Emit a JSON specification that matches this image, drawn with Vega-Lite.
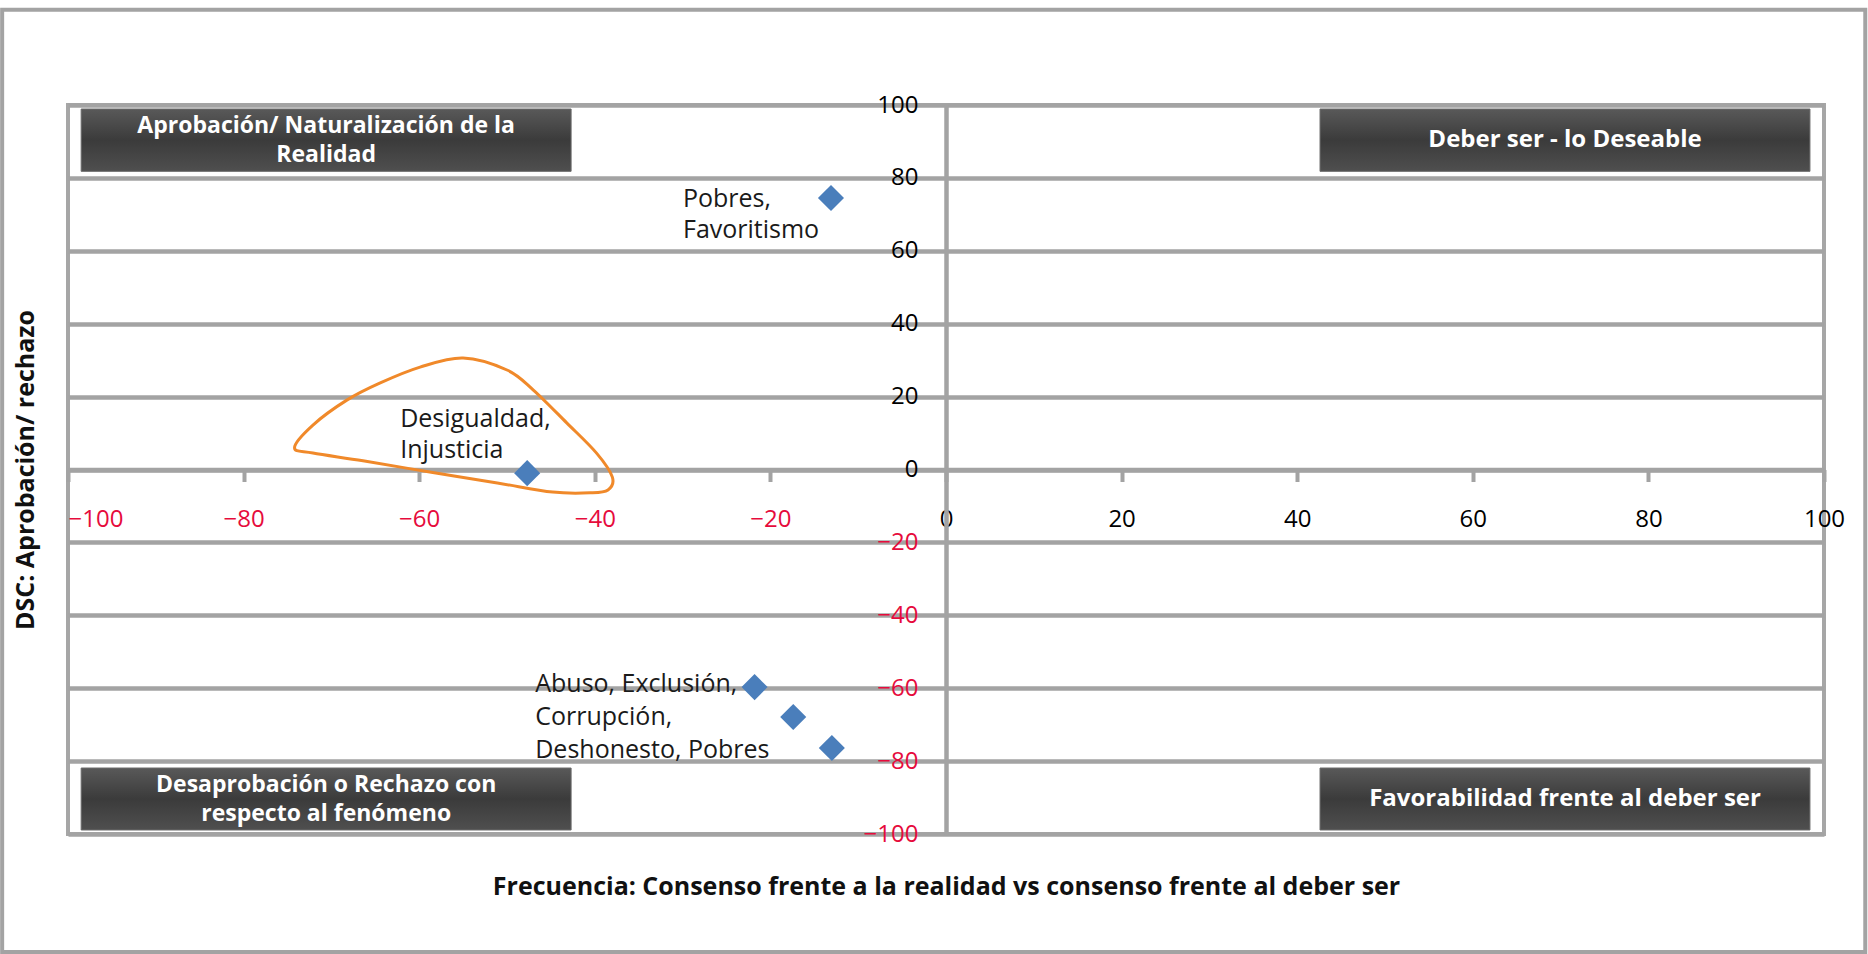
{
  "$schema": "https://vega.github.io/schema/vega-lite/v6.json",
  "width": 1756,
  "height": 729,
  "autosize": {"type": "none"},
  "padding": {"left": 68, "top": 105, "right": 44, "bottom": 120},
  "background": "white",
  "config": {
    "view": {"stroke": "#a6a6a6", "strokeWidth": 4},
    "font": "Open Sans"
  },
  "datasets": {
    "marco": [{"x": -107.5, "x2": 104.7, "y": 126.1, "y2": -132.4}],
    "cuadrantes": [
      {"texto": "Aprobación/ Naturalización de la\nRealidad", "x": -98.5, "x2": -42.7, "y": 98.9, "y2": 81.8},
      {"texto": "Deber ser - lo Deseable", "x": 42.6, "x2": 98.4, "y": 98.9, "y2": 81.8},
      {"texto": "Desaprobación o Rechazo con\nrespecto al fenómeno", "x": -98.5, "x2": -42.7, "y": -81.9, "y2": -98.9},
      {"texto": "Favorabilidad frente al deber ser", "x": 42.6, "x2": 98.4, "y": -81.9, "y2": -98.9}
    ],
    "contorno": [
      {"orden": 1, "x": -74.2, "y": 6.0},
      {"orden": 2, "x": -72.1, "y": 12.2},
      {"orden": 3, "x": -68.2, "y": 19.1},
      {"orden": 4, "x": -64.5, "y": 23.7},
      {"orden": 5, "x": -59.9, "y": 28.1},
      {"orden": 6, "x": -55.0, "y": 30.6},
      {"orden": 7, "x": -50.0, "y": 27.3},
      {"orden": 8, "x": -47.0, "y": 21.8},
      {"orden": 9, "x": -43.2, "y": 12.8},
      {"orden": 10, "x": -39.8, "y": 4.5},
      {"orden": 11, "x": -38.0, "y": -2.1},
      {"orden": 12, "x": -38.5, "y": -5.6},
      {"orden": 13, "x": -40.5, "y": -6.4},
      {"orden": 14, "x": -44.8, "y": -6.2},
      {"orden": 15, "x": -51.1, "y": -3.7},
      {"orden": 16, "x": -58.8, "y": -0.7},
      {"orden": 17, "x": -66.4, "y": 2.4},
      {"orden": 18, "x": -72.1, "y": 4.5}
    ],
    "puntos": [
      {"etiqueta": "Pobres, Favoritismo", "x": -13.1, "y": 74.5},
      {"etiqueta": "Desigualdad, Injusticia", "x": -47.7, "y": -1},
      {"etiqueta": "Abuso, Exclusión", "x": -21.8, "y": -59.7},
      {"etiqueta": "Corrupción", "x": -17.4, "y": -67.9},
      {"etiqueta": "Deshonesto, Pobres", "x": -13.0, "y": -76.4}
    ],
    "etiquetas": [
      {"grupo": "a", "texto": "Pobres,\nFavoritismo", "x": -13.1, "y": 74.5},
      {"grupo": "b", "texto": "Desigualdad,\nInjusticia", "x": -47.7, "y": -1},
      {"grupo": "c", "texto": "Abuso, Exclusión,\nCorrupción,\nDeshonesto, Pobres", "x": -17.4, "y": -67.9}
    ]
  },
  "encoding": {
    "x": {"field": "x", "type": "quantitative", "scale": {"domain": [-100, 100], "nice": false, "zero": false}, "axis": null},
    "y": {"field": "y", "type": "quantitative", "scale": {"domain": [-100, 100], "nice": false, "zero": false}, "axis": null}
  },
  "layer": [
    {
      "data": {"name": "marco"},
      "mark": {"type": "rect", "fill": "transparent", "stroke": "#a3a3a3", "strokeWidth": 4},
      "encoding": {
        "x": {
          "field": "x", "type": "quantitative",
          "scale": {"domain": [-100, 100], "nice": false, "zero": false},
          "axis": {
            "title": "Frecuencia: Consenso frente a la realidad vs consenso frente al deber ser",
            "orient": "bottom", "labels": false, "ticks": false, "domain": false, "grid": false,
            "titleFont": "Open Sans", "titleFontSize": 25, "titleFontWeight": "bold", "titleColor": "#111111",
            "titlePadding": 40, "minExtent": 0, "maxExtent": 0
          }
        },
        "x2": {"field": "x2"},
        "y": {
          "field": "y", "type": "quantitative",
          "scale": {"domain": [-100, 100], "nice": false, "zero": false},
          "axis": {
            "title": "DSC: Aprobación/ rechazo",
            "orient": "left", "labels": false, "ticks": false, "domain": false, "grid": true,
            "values": [-100, -80, -60, -40, -20, 0, 20, 40, 60, 80, 100],
            "gridColor": "#a3a3a3", "gridWidth": 4.5, "gridOpacity": 1,
            "titleFont": "Open Sans", "titleFontSize": 25, "titleFontWeight": "bold", "titleColor": "#111111",
            "titlePadding": 30, "minExtent": 0, "maxExtent": 0
          }
        },
        "y2": {"field": "y2"}
      }
    },
    {
      "data": {"name": "cuadrantes"},
      "mark": {
        "type": "rect",
        "fill": {"gradient": "linear", "x1": 0, "y1": 0, "x2": 0, "y2": 1,
          "stops": [{"offset": 0, "color": "#595959"}, {"offset": 0.5, "color": "#3b3b3b"}, {"offset": 1, "color": "#4f4f4f"}]},
        "stroke": "#6a6a6a", "strokeWidth": 1
      },
      "encoding": {"x2": {"field": "x2"}, "y2": {"field": "y2"}}
    },
    {
      "data": {"name": "cuadrantes"},
      "transform": [{"filter": "indexof(datum.texto, '\\n') < 0"}],
      "mark": {"type": "text", "align": "center", "baseline": "middle", "dx": 245, "dy": 31,
        "font": "Open Sans", "fontSize": 24, "fontWeight": "bold", "color": "#ffffff", "lineBreak": "\n", "lineHeight": 30},
      "encoding": {"text": {"field": "texto"}}
    },
    {
      "data": {"name": "cuadrantes"},
      "transform": [{"filter": "indexof(datum.texto, '\\n') >= 0"}],
      "mark": {"type": "text", "align": "center", "baseline": "middle", "dx": 245, "dy": 16.5,
        "font": "Open Sans", "fontSize": 23, "fontWeight": "bold", "color": "#ffffff", "lineBreak": "\n", "lineHeight": 29},
      "encoding": {"text": {"field": "texto"}}
    },
    {
      "data": {"name": "contorno"},
      "mark": {"type": "line", "interpolate": "cardinal-closed", "stroke": "#f0892a", "strokeWidth": 3},
      "encoding": {"order": {"field": "orden", "type": "quantitative"}}
    },
    {
      "data": {"name": "puntos"},
      "mark": {"type": "point", "shape": "diamond", "filled": true, "size": 680, "color": "#4a7ebb", "opacity": 1},
      "encoding": {
        "x": {
          "field": "x", "type": "quantitative",
          "scale": {"domain": [-100, 100], "nice": false, "zero": false},
          "axis": {
            "title": null, "orient": "bottom", "offset": -364.5,
            "values": [-100, -80, -60, -40, -20, 0, 20, 40, 60, 80, 100],
            "grid": false, "domain": true, "domainColor": "#a3a3a3", "domainWidth": 4.5,
            "ticks": true, "tickColor": "#a3a3a3", "tickWidth": 4, "tickSize": 12,
            "labelFont": "Open Sans", "labelFontSize": 24, "labelPadding": 26,
            "labelFlush": false, "labelOverlap": false,
            "labelColor": {"condition": {"test": "datum.value < 0", "value": "#e60b3c"}, "value": "#000000"},
            "labelAlign": {"condition": {"test": "datum.value == -100", "value": "left"}, "value": "center"}
          }
        },
        "y": {
          "field": "y", "type": "quantitative",
          "scale": {"domain": [-100, 100], "nice": false, "zero": false},
          "axis": {
            "title": null, "orient": "left", "offset": -878,
            "values": [-100, -80, -60, -40, -20, 0, 20, 40, 60, 80, 100],
            "grid": false, "domain": true, "domainColor": "#a3a3a3", "domainWidth": 4.5,
            "ticks": false, "tickSize": 0,
            "labelFont": "Open Sans", "labelFontSize": 24, "labelPadding": 28,
            "labelFlush": false, "labelOverlap": false,
            "labelColor": {"condition": {"test": "datum.value < 0", "value": "#e60b3c"}, "value": "#000000"}
          }
        }
      }
    },
    {
      "data": {"name": "etiquetas"},
      "transform": [{"filter": "datum.grupo == 'a'"}],
      "mark": {"type": "text", "align": "left", "baseline": "alphabetic", "dx": -148, "dy": 9,
        "font": "Open Sans", "fontSize": 25, "color": "#1a1a1a", "lineBreak": "\n", "lineHeight": 31},
      "encoding": {"text": {"field": "texto"}}
    },
    {
      "data": {"name": "etiquetas"},
      "transform": [{"filter": "datum.grupo == 'b'"}],
      "mark": {"type": "text", "align": "left", "baseline": "alphabetic", "dx": -127, "dy": -46,
        "font": "Open Sans", "fontSize": 25, "color": "#1a1a1a", "lineBreak": "\n", "lineHeight": 31},
      "encoding": {"text": {"field": "texto"}}
    },
    {
      "data": {"name": "etiquetas"},
      "transform": [{"filter": "datum.grupo == 'c'"}],
      "mark": {"type": "text", "align": "left", "baseline": "alphabetic", "dx": -258, "dy": -25,
        "font": "Open Sans", "fontSize": 25, "color": "#1a1a1a", "lineBreak": "\n", "lineHeight": 33},
      "encoding": {"text": {"field": "texto"}}
    }
  ],
  "resolve": {"axis": {"x": "independent", "y": "independent"}}
}
